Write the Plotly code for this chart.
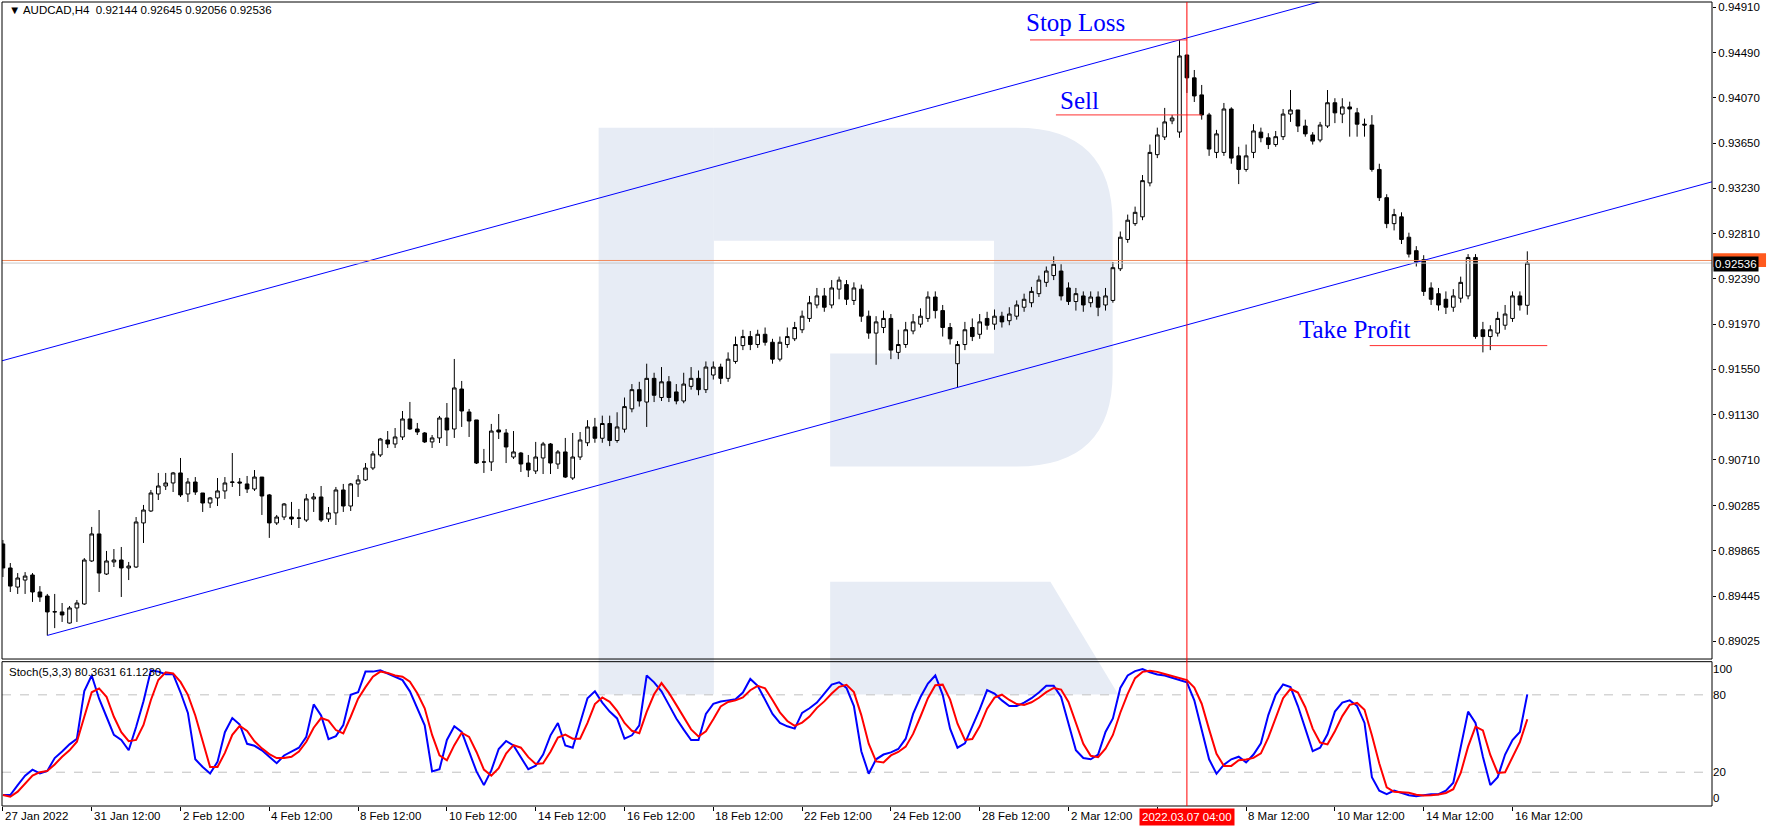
import plotly.graph_objects as go

# ---------------- data ----------------
opens = [0.89929,0.89706,0.89529,0.89594,0.89641,0.89483,0.89446,0.89298,0.89298,0.89195,
         0.89335,0.89372,0.89771,0.90022,0.89650,0.89762,0.89780,0.89706,0.89715,0.90124,
         0.90235,0.90393,0.90467,0.90495,0.90588,0.90393,0.90504,0.90402,0.90309,0.90356,
         0.90421,0.90500,0.90504,0.90486,0.90439,0.90550,0.90384,0.90124,0.90179,0.90179,
         0.90170,0.90151,0.90347,0.90365,0.90161,0.90217,0.90430,0.90281,0.90486,0.90523,
         0.90634,0.90755,0.90894,0.90857,0.90922,0.91089,0.90996,0.90959,0.90876,0.90913,
         0.91098,0.90996,0.91367,0.91154,0.91080,0.90690,0.90690,0.90987,0.90959,0.90736,
         0.90773,0.90680,0.90606,0.90727,0.90857,0.90671,0.90783,0.90541,0.90736,
         0.90868,0.91015,0.90910,0.91047,0.90889,0.90994,0.91183,0.91361,0.91246,0.91466,
         0.91288,0.91434,0.91340,0.91256,0.91392,0.91466,0.91361,0.91497,0.91571,0.91466,
         0.91623,0.91770,0.91854,0.91780,0.91875,0.91801,0.91644,0.91780,0.91833,0.91917,
         0.92022,0.92147,0.92231,0.92147,0.92294,0.92336,0.92189,0.92294,0.92043,0.91886,
         0.91938,0.92022,0.91707,0.91780,0.91906,0.91969,0.92022,0.92221,0.92095,0.91938,
         0.91602,0.91780,0.91938,0.91875,0.92022,0.91969,0.92043,0.92001,0.92043,0.92126,
         0.92168,0.92252,0.92357,0.92420,0.92462,0.92305,0.92179,0.92231,0.92168,0.92221,
         0.92147,0.92189,0.92483,0.92755,0.92902,0.92965,0.93280,0.93542,0.93706,0.93856,
         0.93752,0.94467,0.94255,0.94097,0.93911,0.93563,0.93563,0.93966,0.93531,0.93405,
         0.93563,0.93751,0.93699,0.93636,0.93709,0.93919,0.93957,0.93808,0.93725,0.93678,
         0.93808,0.94024,0.93919,0.93985,0.93930,0.93825,0.93817,0.93405,0.93143,0.92902,
         0.92965,0.92776,0.92651,0.92567,0.92305,0.92252,0.92200,0.92126,0.92210,0.92231,
         0.92588,0.91917,0.91854,0.91886,0.91959,0.92022,0.92231,0.92144]
highs = [0.89966,0.89752,0.89659,0.89668,0.89659,0.89538,0.89465,0.89465,0.89381,0.89353,
         0.89409,0.89798,0.90087,0.90244,0.89864,0.89882,0.89901,0.89762,0.90179,0.90291,
         0.90430,0.90588,0.90588,0.90597,0.90727,0.90541,0.90550,0.90402,0.90365,0.90541,
         0.90550,0.90773,0.90541,0.90560,0.90615,0.90550,0.90393,0.90198,0.90309,0.90319,
         0.90254,0.90393,0.90402,0.90467,0.90272,0.90458,0.90486,0.90495,0.90569,0.90680,
         0.90792,0.90913,0.90977,0.91005,0.91163,0.91247,0.91052,0.90968,0.90940,0.91117,
         0.91237,0.91646,0.91442,0.91182,0.91080,0.90811,0.91043,0.91135,0.90996,0.90977,
         0.90783,0.90755,0.90876,0.90876,0.90866,0.90801,0.90913,0.90959,0.90968,
         0.91078,0.91099,0.91120,0.91120,0.91151,0.91288,0.91413,0.91434,0.91602,0.91518,
         0.91571,0.91487,0.91413,0.91518,0.91571,0.91539,0.91623,0.91623,0.91602,0.91707,
         0.91854,0.91917,0.91906,0.91917,0.91938,0.91833,0.91854,0.91938,0.91990,0.92095,
         0.92231,0.92305,0.92305,0.92378,0.92410,0.92378,0.92357,0.92336,0.92095,0.92043,
         0.92095,0.92063,0.91917,0.91990,0.92063,0.92116,0.92273,0.92273,0.92147,0.91980,
         0.91812,0.91990,0.92022,0.92063,0.92084,0.92105,0.92084,0.92126,0.92189,0.92252,
         0.92315,0.92420,0.92504,0.92598,0.92525,0.92357,0.92305,0.92273,0.92273,0.92273,
         0.92305,0.92546,0.92829,0.92986,0.93060,0.93353,0.93636,0.93793,0.93976,0.93911,
         0.94607,0.94470,0.94328,0.94189,0.93930,0.93772,0.94022,0.93982,0.93615,0.93636,
         0.93825,0.93793,0.93741,0.93762,0.93966,0.94142,0.93957,0.93867,0.93751,0.93846,
         0.94142,0.94066,0.94066,0.94034,0.93976,0.93877,0.93909,0.93458,0.93175,0.93039,
         0.93007,0.92818,0.92693,0.92609,0.92357,0.92305,0.92273,0.92294,0.92410,0.92619,
         0.92619,0.91990,0.91959,0.92084,0.92147,0.92273,0.92273,0.92645]
lows = [0.89622,0.89483,0.89465,0.89465,0.89391,0.89391,0.89080,0.89148,0.89205,0.89190,
        0.89205,0.89363,0.89762,0.89483,0.89641,0.89715,0.89437,0.89594,0.89706,0.89938,
        0.90226,0.90337,0.90430,0.90411,0.90365,0.90319,0.90384,0.90226,0.90263,0.90281,
        0.90347,0.90458,0.90374,0.90402,0.90421,0.90198,0.89985,0.90105,0.90151,0.90105,
        0.90077,0.90133,0.90226,0.90133,0.90133,0.90105,0.90226,0.90235,0.90365,0.90513,
        0.90615,0.90736,0.90820,0.90820,0.90894,0.90987,0.90940,0.90866,0.90820,0.90866,
        0.90838,0.90913,0.91015,0.90922,0.90671,0.90588,0.90606,0.90903,0.90680,0.90718,
        0.90597,0.90550,0.90578,0.90578,0.90578,0.90625,0.90541,0.90523,0.90708,
        0.90837,0.90868,0.90868,0.90837,0.90868,0.90963,0.91151,0.91204,0.91015,0.91246,
        0.91256,0.91246,0.91225,0.91235,0.91361,0.91309,0.91330,0.91455,0.91413,0.91434,
        0.91602,0.91728,0.91728,0.91749,0.91770,0.91602,0.91623,0.91749,0.91812,0.91886,
        0.91990,0.92116,0.92084,0.92116,0.92200,0.92147,0.92147,0.91990,0.91833,0.91592,
        0.91886,0.91644,0.91644,0.91749,0.91875,0.91938,0.91990,0.92022,0.91854,0.91780,
        0.91382,0.91728,0.91812,0.91833,0.91917,0.91917,0.91938,0.91959,0.92011,0.92084,
        0.92126,0.92221,0.92315,0.92378,0.92189,0.92147,0.92095,0.92084,0.92126,0.92043,
        0.92095,0.92168,0.92462,0.92724,0.92881,0.92934,0.93248,0.93510,0.93678,0.93825,
        0.93699,0.94115,0.94031,0.93867,0.93531,0.93510,0.93531,0.93458,0.93269,0.93384,
        0.93510,0.93657,0.93594,0.93615,0.93678,0.93846,0.93752,0.93709,0.93636,0.93657,
        0.93790,0.93835,0.93835,0.93709,0.93709,0.93709,0.93384,0.93112,0.92860,0.92839,
        0.92713,0.92588,0.92504,0.92231,0.92147,0.92095,0.92063,0.92084,0.92168,0.92200,
        0.91833,0.91707,0.91728,0.91854,0.91917,0.91990,0.92095,0.92056]
closes = [0.89706,0.89538,0.89613,0.89631,0.89483,0.89437,0.89298,0.89300,0.89270,0.89335,
          0.89381,0.89780,0.90022,0.89659,0.89771,0.89780,0.89706,0.89724,0.90133,0.90244,
          0.90402,0.90467,0.90495,0.90588,0.90384,0.90504,0.90411,0.90309,0.90356,0.90421,
          0.90495,0.90504,0.90495,0.90439,0.90550,0.90374,0.90124,0.90179,0.90300,0.90161,
          0.90168,0.90347,0.90365,0.90151,0.90217,0.90430,0.90281,0.90486,0.90523,0.90634,
          0.90764,0.90903,0.90857,0.90922,0.91089,0.90996,0.90968,0.90876,0.90913,0.91098,
          0.90987,0.91377,0.91163,0.91070,0.90680,0.90689,0.90977,0.90968,0.90829,0.90783,
          0.90671,0.90615,0.90736,0.90857,0.90680,0.90783,0.90550,0.90736,0.90894,
          0.91015,0.90910,0.91047,0.90889,0.91015,0.91204,0.91361,0.91256,0.91466,0.91309,
          0.91434,0.91288,0.91256,0.91413,0.91466,0.91361,0.91571,0.91571,0.91466,0.91644,
          0.91780,0.91854,0.91780,0.91875,0.91801,0.91644,0.91801,0.91854,0.91938,0.92043,
          0.92168,0.92231,0.92126,0.92305,0.92378,0.92200,0.92305,0.92043,0.91886,0.91990,
          0.92022,0.91728,0.91780,0.91917,0.91990,0.92043,0.92221,0.92095,0.91938,0.91833,
          0.91780,0.91917,0.91854,0.91990,0.91959,0.92043,0.91990,0.92063,0.92147,0.92200,
          0.92273,0.92378,0.92462,0.92525,0.92231,0.92179,0.92252,0.92147,0.92221,0.92126,
          0.92231,0.92493,0.92776,0.92934,0.93007,0.93301,0.93563,0.93725,0.93846,0.93882,
          0.94458,0.94255,0.94087,0.93911,0.93594,0.93735,0.93966,0.93510,0.93405,0.93531,
          0.93762,0.93699,0.93636,0.93709,0.93919,0.93957,0.93808,0.93735,0.93668,0.93817,
          0.94024,0.93930,0.93985,0.93966,0.93825,0.93817,0.93405,0.93143,0.92902,0.92986,
          0.92755,0.92619,0.92546,0.92273,0.92200,0.92147,0.92126,0.92231,0.92357,0.92588,
          0.91854,0.91854,0.91917,0.92022,0.92063,0.92231,0.92147,0.92536]

stoch_main = [2.3,2.3,10,17.3,22,19,21,31,36,41.6,46,83,95,77,63,49,45,37,55,75,
              99,98,96,96,82,66,30,24,19,28,51,62,57,42,40.5,37,32,27,33,36,
              39,47.5,72.6,64,45.7,48,56.6,80,82,98,98,99,96.6,94,
              91.4,82.7,69.6,56.4,20.6,22.3,45,55.6,51.2,35.4,
              20.6,10,21.4,38,44.2,40.7,32,22.3,25,33.7,
              48.6,58.2,40.7,39,58.2,77.4,82.7,74,67,61.7,
              46,48.6,56.4,95,89.7,82.7,72.2,61.7,53,45,
              45,65.2,73,74.8,75.7,76.6,81.8,92.3,87,75.7,
              65.2,58.2,55.6,53.8,66,69.6,74,81,88,89.7,
              85.3,71.3,36.3,18.8,30,33.7,35.4,38,46,65.2,
              78.3,88.8,95,80,53.8,39,42.4,55.6,68.7,83.6,
              81,75.7,71.3,71.3,74,77.4,81.8,87,87,78.3,
              58.2,37,31,30,33.7,51.2,61.7,85.3,95,98.4,
              100,97.5,95.8,95,93.2,91.4,89.7,75.7,53.8,30,
              18.8,25.8,30,32,27.6,33.7,42.4,64.3,80,88,
              86,71.3,53.8,36.3,39,49.4,67,74,75.7,71.3,
              58.2,16.2,5.7,3,5.7,4,2.2,1.3,2.2,3,
              3,5.7,11.8,40.7,67,58.2,32,10,16.2,33.7,
              45,51.2,80.36]
stoch_signal = [2.3,1,4.9,11.4,17.3,20,21,26,32,37,43.6,63,82,85,78.5,63,51,44,45,56.6,
                76,91.5,97.4,96.6,90,80,64,44,24,24,35,49,56,52,44,38.5,34,31,31,32,
                36,43.6,54.5,62,60,52.7,50,63,77,86,94,98,97,95,
                94,90.2,81.2,69.6,48.9,33.1,29.3,41,50.6,47.4,
                35.7,22,17.3,23.1,34.5,41,39,31.7,26.4,27,
                35.8,46.8,49.2,46,46,58.2,72.8,78,74.6,67.6,
                58.2,52.1,50.3,66.7,80.4,89.1,81.5,72.2,62.3,53.2,
                47.7,51.7,61.1,71,74.5,75.7,78,83.6,87,85,
                76,66.4,59.7,55.9,58.5,63.1,69.9,74.9,81,86.2,
                87.7,82.1,64.3,42.1,28.4,27.5,33,35.7,39.8,49.7,
                63.2,77.4,87.4,87.9,76.3,57.6,45,45.7,55.6,69.3,
                77.8,80.1,76,72.8,72.2,74.2,77.7,82.1,85.3,84.1,
                74.5,57.8,42.1,32.7,31.6,38.3,48.9,66.1,80.7,92.9,
                97.8,98.6,97.8,96.1,94.7,93.2,91.4,85.6,73.1,53.2,
                34.2,24.9,24.9,29.3,29.9,31.1,34.6,46.8,62.2,77.4,
                84.7,81.8,70.4,53.8,43,41.6,51.8,63.5,72.2,73.7,
                68.4,48.6,26.7,8.3,4.8,4.2,4,2.5,1.9,2.2,
                2.7,3.9,6.8,19.4,39.8,55.3,52.4,33.4,19.4,20,
                31.6,43.3,61.12]

tick_bars = [0, 12, 24, 36, 48, 60, 72, 84, 96, 108, 120, 132, 144, 168, 180, 192, 204]
tick_labels = ["27 Jan 2022", "31 Jan 12:00", "2 Feb 12:00", "4 Feb 12:00", "8 Feb 12:00",
               "10 Feb 12:00", "14 Feb 12:00", "16 Feb 12:00", "18 Feb 12:00", "22 Feb 12:00",
               "24 Feb 12:00", "28 Feb 12:00", "2 Mar 12:00", "8 Mar 12:00", "10 Mar 12:00",
               "14 Mar 12:00", "16 Mar 12:00"]
price_ticks = [0.94910, 0.94490, 0.94070, 0.93650, 0.93230, 0.92810, 0.92390, 0.91970,
               0.91550, 0.91130, 0.90710, 0.90285, 0.89865, 0.89445, 0.89025]

cursor_bar = 160
cursor_label = "2022.03.07 04:00"
lower_channel = [(6, 0.89080), (129, 0.91382)]
upper_channel_anchor = (159, 0.94607)
bid_price = 0.92536
ask_price = 0.92560
stop_loss = 0.94607
sell_price = 0.93911
take_profit = 0.91770
header = "AUDCAD,H4  0.92144 0.92645 0.92056 0.92536"
stoch_header = "Stoch(5,3,3) 80.3631 61.1230"

n = len(opens)
for arr in (highs, lows, closes, stoch_main, stoch_signal):
    if len(arr) != n:
        raise ValueError("length mismatch %d vs %d" % (len(arr), n))

# ---------------- figure ----------------
X_MIN, X_MAX = -0.122, 230.96
P_MIN, P_MAX = 0.88861, 0.94959
FONT = "Liberation Sans"
WM = "#E7ECF5"

fig = go.Figure()

# channel lines
(x1, y1), (x2, y2) = lower_channel
slope = (y2 - y1) / (x2 - x1)
fig.add_trace(go.Scatter(x=[x1, X_MAX], y=[y1, y1 + slope * (X_MAX - x1)], mode="lines",
                         line=dict(color="#0000FF", width=1), hoverinfo="skip", showlegend=False))
ux, uy = upper_channel_anchor
fig.add_trace(go.Scatter(x=[X_MIN, X_MAX], y=[uy + slope * (X_MIN - ux), uy + slope * (X_MAX - ux)],
                         mode="lines", line=dict(color="#0000FF", width=1), hoverinfo="skip", showlegend=False))

# bid / ask lines
fig.add_trace(go.Scatter(x=[X_MIN, X_MAX], y=[ask_price, ask_price], mode="lines",
                         line=dict(color="#F08A5D", width=1), hoverinfo="skip", showlegend=False))
fig.add_trace(go.Scatter(x=[X_MIN, X_MAX], y=[bid_price, bid_price], mode="lines",
                         line=dict(color="#C8C8C8", width=1), hoverinfo="skip", showlegend=False))

# trade level lines
fig.add_trace(go.Scatter(x=[138.8, 160], y=[stop_loss, stop_loss], mode="lines",
                         line=dict(color="#FF3030", width=1), hoverinfo="skip", showlegend=False))
fig.add_trace(go.Scatter(x=[142.3, 162], y=[sell_price, sell_price], mode="lines",
                         line=dict(color="#FF3030", width=1), hoverinfo="skip", showlegend=False))
fig.add_trace(go.Scatter(x=[184.7, 208.7], y=[take_profit, take_profit], mode="lines",
                         line=dict(color="#FF3030", width=1), hoverinfo="skip", showlegend=False))

bars = list(range(n))
fig.add_trace(go.Candlestick(
    x=bars, open=opens, high=highs, low=lows, close=closes,
    increasing=dict(line=dict(color="black", width=1), fillcolor="white"),
    decreasing=dict(line=dict(color="black", width=1), fillcolor="black"),
    whiskerwidth=0, hoverinfo="skip", showlegend=False, xaxis="x", yaxis="y"))

# stochastic
fig.add_trace(go.Scatter(x=bars, y=stoch_main, mode="lines",
                         line=dict(color="#0000FF", width=2), xaxis="x", yaxis="y2",
                         hoverinfo="skip", showlegend=False))
fig.add_trace(go.Scatter(x=bars, y=stoch_signal, mode="lines",
                         line=dict(color="#FF0000", width=2), xaxis="x", yaxis="y2",
                         hoverinfo="skip", showlegend=False))

shapes = []
# background watermark logo
shapes.append(dict(type="rect", xref="paper", yref="paper", x0=0.3489, x1=0.4163, y0=0.1386, y1=0.8437,
                   fillcolor=WM, line=dict(width=0), layer="below"))
shapes.append(dict(type="path", xref="paper", yref="paper",
                   path="M 0.4163,0.8437 L 0.5933,0.8437 Q 0.6495,0.8437 0.6495,0.7243 L 0.6495,0.5389 "
                        "Q 0.6495,0.4223 0.5933,0.4223 L 0.4843,0.4223 L 0.4843,0.5628 L 0.5801,0.5628 "
                        "L 0.5801,0.7032 L 0.4163,0.7032 Z",
                   fillcolor=WM, line=dict(width=0), layer="below"))
shapes.append(dict(type="path", xref="paper", yref="paper",
                   path="M 0.4843,0.2790 L 0.6131,0.2790 L 0.6528,0.1386 L 0.4843,0.1386 Z",
                   fillcolor=WM, line=dict(width=0), layer="below"))
# panel frames
shapes.append(dict(type="rect", xref="paper", yref="paper", x0=0, x1=1, y0=0.1828, y1=1,
                   line=dict(color="black", width=1), layer="above"))
shapes.append(dict(type="rect", xref="paper", yref="paper", x0=0, x1=1, y0=0, y1=0.1795,
                   line=dict(color="black", width=1), layer="above"))
# stochastic levels
for lv in (80, 20):
    shapes.append(dict(type="line", xref="paper", yref="y2", x0=0, x1=1, y0=lv, y1=lv,
                       line=dict(color="#C0C0C0", width=1, dash="dash"), layer="below"))
# cursor vertical line
shapes.append(dict(type="line", xref="x", yref="paper", x0=cursor_bar, x1=cursor_bar, y0=0, y1=1,
                   line=dict(color="#FF0000", width=1)))
# ask price box (mostly hidden behind the bid box)
shapes.append(dict(type="rect", xref="paper", yref="y", x0=1.0006, x1=1.0316,
                   y0=ask_price - 0.00060, y1=ask_price + 0.00066,
                   fillcolor="#FF5A1E", line=dict(width=0)))

annotations = []
for b, t in zip(tick_bars, tick_labels):
    annotations.append(dict(x=b, y=0, xref="x", yref="paper", text=t, showarrow=False,
                            xanchor="left", yanchor="top", xshift=0, yshift=-2,
                            font=dict(family=FONT, size=11.5, color="black")))
annotations.append(dict(x=cursor_bar, y=0, xref="x", yref="paper", text=cursor_label, showarrow=False,
                        xanchor="center", yanchor="top", yshift=-2, bgcolor="#FF0000", borderpad=2,
                        font=dict(family=FONT, size=11.5, color="white")))
annotations.append(dict(x=0.003, y=0.9995, xref="paper", yref="paper", text="\u25BC " + header,
                        showarrow=False, xanchor="left", yanchor="top",
                        font=dict(family=FONT, size=11.5, color="black")))
annotations.append(dict(x=0.003, y=0.1795, xref="paper", yref="paper", text=stoch_header,
                        showarrow=False, xanchor="left", yanchor="top", yshift=-2,
                        font=dict(family=FONT, size=11.5, color="black")))
annotations.append(dict(x=1, y=bid_price, xref="paper", yref="y", text="%.5f" % bid_price,
                        showarrow=False, xanchor="left", yanchor="middle", xshift=1, yshift=-1,
                        bgcolor="black", borderpad=1, font=dict(family=FONT, size=11.5, color="white")))
# trade labels
for txt, bx, py in (("Stop Loss", 138.0, 0.9477), ("Sell", 142.6, 0.94045), ("Take Profit", 174.9, 0.91915)):
    annotations.append(dict(x=bx, y=py, xref="x", yref="y", text=txt, showarrow=False,
                            xanchor="left", yanchor="middle",
                            font=dict(family="Liberation Serif", size=25, color="#0000FF")))

fig.update_layout(
    width=1771, height=828, margin=dict(l=2, r=59, t=2, b=22),
    paper_bgcolor="white", plot_bgcolor="white",
    xaxis=dict(range=[X_MIN, X_MAX], anchor="y2", showgrid=False, zeroline=False,
               tickvals=tick_bars + [156], ticks="outside", ticklen=4, tickcolor="black",
               showticklabels=False, rangeslider=dict(visible=False), fixedrange=True),
    yaxis=dict(domain=[0.1828, 1], range=[P_MIN, P_MAX], side="right", anchor="x",
               tickvals=price_ticks, ticktext=["%.5f" % v for v in price_ticks],
               ticks="outside", ticklen=3, tickcolor="black", showgrid=False, zeroline=False,
               tickfont=dict(family=FONT, size=11.5, color="black")),
    yaxis2=dict(domain=[0, 0.1795], range=[-6.2, 105.7], side="right", anchor="x",
                tickvals=[0, 20, 80, 100], ticktext=["0", "20", "80", "100"], ticks="",
                showgrid=False, zeroline=False,
                tickfont=dict(family=FONT, size=11.5, color="black")),
    shapes=shapes, annotations=annotations, showlegend=False,
)

fig.write_html("out.html")
